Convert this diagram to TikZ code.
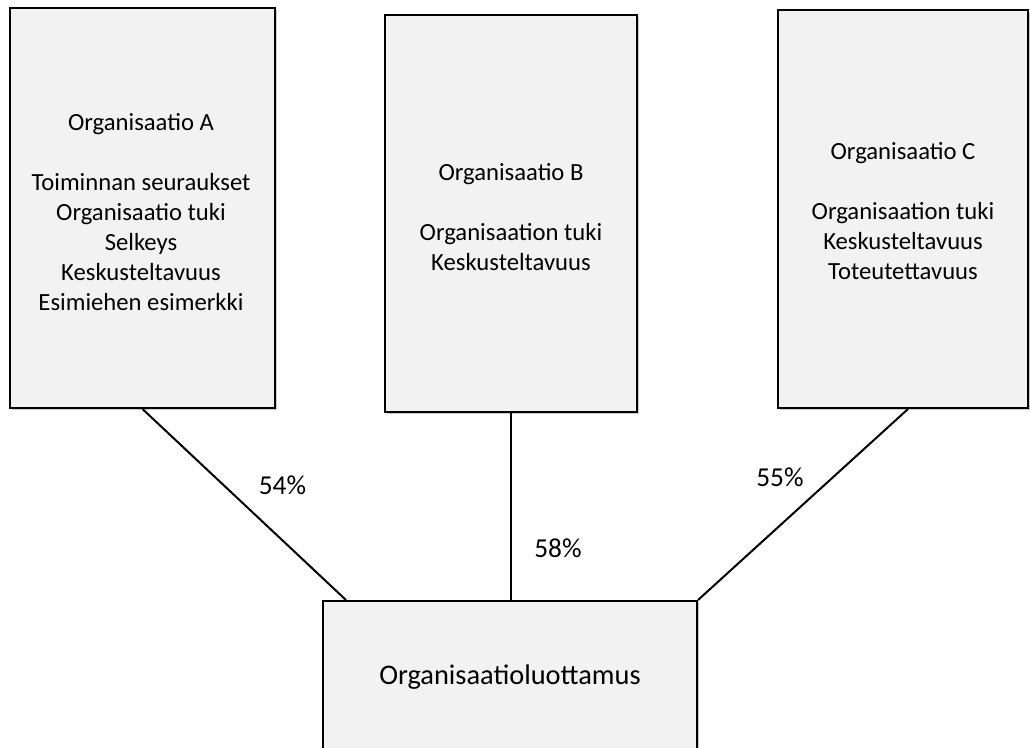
\documentclass[tikz,border=0pt]{standalone}
\usepackage{fontspec}
\setmainfont{Carlito}
\usetikzlibrary{calc,shadows}
\definecolor{boxfill}{HTML}{F2F2F2}
\tikzset{
  box/.style={draw=black, line width=1.5pt, fill=boxfill, inner sep=0pt,
    drop shadow={shadow xshift=1.5pt, shadow yshift=-1.5pt, opacity=0.35, fill=black!60}},
  boxtext/.style={align=center, inner sep=0pt, font=\fontsize{18.5}{22.5}\selectfont},
  link/.style={draw=black, line width=1.5pt},
  pct/.style={font=\fontsize{20.5}{20}\selectfont, inner sep=0pt}
}
\begin{document}
\begin{tikzpicture}[x=0.75pt, y=-0.75pt]
  \useasboundingbox (0,0) rectangle (1030,747);
  \clip (0,0) rectangle (1030,747);

  % three organisation boxes
  \node[box, minimum width=198.75pt, minimum height=300pt] (A) at (142.5,208) {};
  \node[box, minimum width=189pt, minimum height=297.75pt] (B) at (511,213.5) {};
  \node[box, minimum width=187.5pt, minimum height=298.5pt] (C) at (903,209) {};

  \node[boxtext] (At) at (141,212)
    {Organisaatio A\\[22.5pt]Toiminnan seuraukset\\Organisaatio tuki\\Selkeys\\Keskusteltavuus\\Esimiehen esimerkki};
  \node[boxtext] (Bt) at (511,217)
    {Organisaatio B\\[22.5pt]Organisaation tuki\\Keskusteltavuus};
  \node[boxtext] (Ct) at (903,211.5)
    {Organisaatio C\\[22.5pt]Organisaation tuki\\Keskusteltavuus\\Toteutettavuus};

  % common result box
  \node[box, minimum width=280.5pt, minimum height=114pt] (T) at (510,677) {};
  \node[inner sep=0pt, font=\fontsize{21.3}{24}\selectfont] (Tt) at (510,677) {Organisaatioluottamus};

  % connectors
  \draw[link] (A.south) -- ([xshift=18pt]T.north west);
  \draw[link] (B.south) -- (B.south |- T.north);
  \draw[link] ([xshift=3.75pt]C.south) -- (T.north east);

  % shares
  \node[pct] (pA) at (282.5,485) {54\%};
  \node[pct] (pB) at (558,548) {58\%};
  \node[pct] (pC) at (780,477) {55\%};
\end{tikzpicture}
\end{document}
